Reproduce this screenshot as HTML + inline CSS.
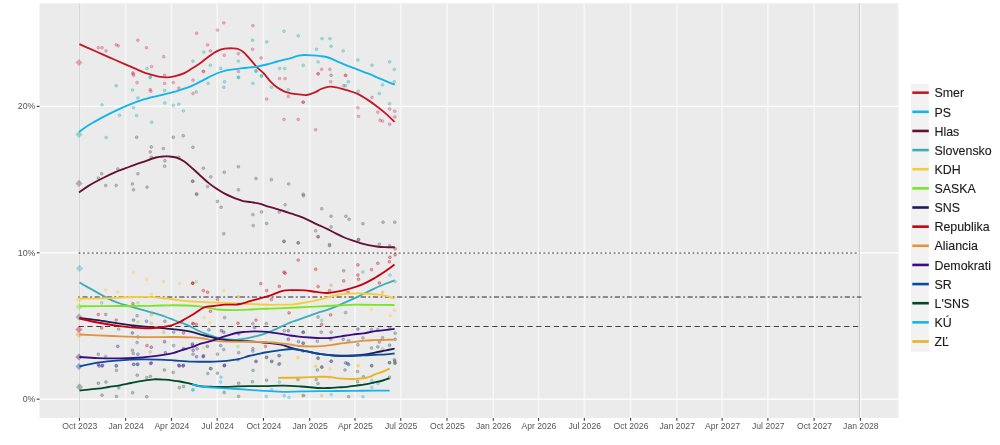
<!DOCTYPE html>
<html><head><meta charset="utf-8"><title>Polls</title>
<style>html,body{margin:0;padding:0;background:#fff;}body{width:1000px;height:445px;overflow:hidden;}svg{display:block;}</style>
</head><body>
<svg width="1000" height="445" viewBox="0 0 1000 445">
<rect x="39.5" y="3.3" width="858.90" height="414.70" fill="#ebebeb"/>
<g stroke="#ffffff" stroke-width="1.2"><line x1="79.40" y1="3.3" x2="79.40" y2="418.0" stroke="#f6f6f6" stroke-width="1.7"/><line x1="125.67" y1="3.3" x2="125.67" y2="418.0" stroke="#f6f6f6" stroke-width="1.7"/><line x1="171.43" y1="3.3" x2="171.43" y2="418.0" stroke="#f6f6f6" stroke-width="1.7"/><line x1="217.19" y1="3.3" x2="217.19" y2="418.0" stroke="#f6f6f6" stroke-width="1.7"/><line x1="263.46" y1="3.3" x2="263.46" y2="418.0" stroke="#f6f6f6" stroke-width="1.7"/><line x1="309.73" y1="3.3" x2="309.73" y2="418.0" stroke="#f6f6f6" stroke-width="1.7"/><line x1="354.99" y1="3.3" x2="354.99" y2="418.0" stroke="#f6f6f6" stroke-width="1.7"/><line x1="400.75" y1="3.3" x2="400.75" y2="418.0" stroke="#f6f6f6" stroke-width="1.7"/><line x1="447.02" y1="3.3" x2="447.02" y2="418.0" stroke="#f6f6f6" stroke-width="1.7"/><line x1="493.29" y1="3.3" x2="493.29" y2="418.0" stroke="#f6f6f6" stroke-width="1.7"/><line x1="538.55" y1="3.3" x2="538.55" y2="418.0" stroke="#f6f6f6" stroke-width="1.7"/><line x1="584.31" y1="3.3" x2="584.31" y2="418.0" stroke="#f6f6f6" stroke-width="1.7"/><line x1="630.58" y1="3.3" x2="630.58" y2="418.0" stroke="#f6f6f6" stroke-width="1.7"/><line x1="676.85" y1="3.3" x2="676.85" y2="418.0" stroke="#f6f6f6" stroke-width="1.7"/><line x1="722.11" y1="3.3" x2="722.11" y2="418.0" stroke="#f6f6f6" stroke-width="1.7"/><line x1="767.87" y1="3.3" x2="767.87" y2="418.0" stroke="#f6f6f6" stroke-width="1.7"/><line x1="814.14" y1="3.3" x2="814.14" y2="418.0" stroke="#f6f6f6" stroke-width="1.7"/><line x1="860.40" y1="3.3" x2="860.40" y2="418.0" stroke="#f6f6f6" stroke-width="1.7"/><line x1="39.5" y1="399.20" x2="898.4" y2="399.20"/><line x1="39.5" y1="252.80" x2="898.4" y2="252.80"/><line x1="39.5" y1="106.40" x2="898.4" y2="106.40"/></g>
<line x1="79.4" y1="3.3" x2="79.4" y2="418.0" stroke="#d4d4d4" stroke-width="1"/>
<line x1="859.4" y1="3.3" x2="859.4" y2="418.0" stroke="#c8c8c8" stroke-width="1"/>
<line x1="79" y1="253" x2="858.5" y2="253" stroke="#333333" stroke-width="1.1" stroke-dasharray="1.096 3.289" stroke-linecap="round"/>
<line x1="78.45" y1="297" x2="861" y2="297" stroke="#2a2a2a" stroke-width="1.1" stroke-dasharray="1.1 3.3 4.4 3.3" stroke-linecap="round"/>
<line x1="79" y1="326.5" x2="858.5" y2="326.5" stroke="#404040" stroke-width="1.1" stroke-dasharray="4.4 4.4" stroke-linecap="round"/>
<g fill-opacity="0.32" stroke-opacity="0.38" stroke-width="0.7"><circle cx="98.3" cy="47.7" r="1.45" fill="#c83a5c" stroke="#c83a5c"/><circle cx="102.0" cy="47.7" r="1.45" fill="#c83a5c" stroke="#c83a5c"/><circle cx="106.0" cy="50.9" r="1.45" fill="#c83a5c" stroke="#c83a5c"/><circle cx="116.2" cy="44.9" r="1.45" fill="#c83a5c" stroke="#c83a5c"/><circle cx="118.2" cy="45.8" r="1.45" fill="#c83a5c" stroke="#c83a5c"/><circle cx="137.9" cy="40.3" r="1.45" fill="#c83a5c" stroke="#c83a5c"/><circle cx="146.5" cy="47.7" r="1.45" fill="#c83a5c" stroke="#c83a5c"/><circle cx="163.8" cy="56.7" r="1.45" fill="#c83a5c" stroke="#c83a5c"/><circle cx="151.6" cy="66.6" r="1.45" fill="#c83a5c" stroke="#c83a5c"/><circle cx="132.9" cy="72.9" r="1.45" fill="#c83a5c" stroke="#c83a5c"/><circle cx="133.5" cy="75.3" r="1.45" fill="#c83a5c" stroke="#c83a5c"/><circle cx="164.6" cy="75.3" r="1.45" fill="#c83a5c" stroke="#c83a5c"/><circle cx="147.0" cy="68.5" r="1.45" fill="#18b0a8" stroke="#18b0a8"/><circle cx="150.2" cy="77.6" r="1.45" fill="#18b0a8" stroke="#18b0a8"/><circle cx="193.0" cy="61.1" r="1.45" fill="#18b0a8" stroke="#18b0a8"/><circle cx="196.6" cy="33.3" r="1.45" fill="#c83a5c" stroke="#c83a5c"/><circle cx="217.5" cy="30.1" r="1.45" fill="#c83a5c" stroke="#c83a5c"/><circle cx="223.8" cy="22.9" r="1.45" fill="#c83a5c" stroke="#c83a5c"/><circle cx="252.9" cy="25.7" r="1.45" fill="#c83a5c" stroke="#c83a5c"/><circle cx="207.6" cy="44.9" r="1.45" fill="#c83a5c" stroke="#c83a5c"/><circle cx="210.4" cy="50.9" r="1.45" fill="#c83a5c" stroke="#c83a5c"/><circle cx="224.3" cy="55.3" r="1.45" fill="#c83a5c" stroke="#c83a5c"/><circle cx="238.4" cy="53.7" r="1.45" fill="#c83a5c" stroke="#c83a5c"/><circle cx="252.6" cy="49.3" r="1.45" fill="#c83a5c" stroke="#c83a5c"/><circle cx="261.1" cy="58.0" r="1.45" fill="#c83a5c" stroke="#c83a5c"/><circle cx="203.4" cy="71.3" r="1.45" fill="#c83a5c" stroke="#c83a5c"/><circle cx="238.4" cy="71.6" r="1.45" fill="#c83a5c" stroke="#c83a5c"/><circle cx="203.8" cy="52.1" r="1.45" fill="#18b0a8" stroke="#18b0a8"/><circle cx="210.4" cy="65.3" r="1.45" fill="#18b0a8" stroke="#18b0a8"/><circle cx="220.7" cy="68.5" r="1.45" fill="#18b0a8" stroke="#18b0a8"/><circle cx="238.4" cy="61.1" r="1.45" fill="#18b0a8" stroke="#18b0a8"/><circle cx="252.6" cy="40.2" r="1.45" fill="#18b0a8" stroke="#18b0a8"/><circle cx="266.7" cy="41.9" r="1.45" fill="#18b0a8" stroke="#18b0a8"/><circle cx="284.0" cy="31.2" r="1.45" fill="#18b0a8" stroke="#18b0a8"/><circle cx="298.2" cy="35.9" r="1.45" fill="#18b0a8" stroke="#18b0a8"/><circle cx="303.2" cy="65.3" r="1.45" fill="#18b0a8" stroke="#18b0a8"/><circle cx="279.6" cy="68.5" r="1.45" fill="#18b0a8" stroke="#18b0a8"/><circle cx="284.8" cy="68.5" r="1.45" fill="#18b0a8" stroke="#18b0a8"/><circle cx="256.0" cy="71.3" r="1.45" fill="#18b0a8" stroke="#18b0a8"/><circle cx="261.5" cy="75.7" r="1.45" fill="#18b0a8" stroke="#18b0a8"/><circle cx="238.4" cy="77.6" r="1.45" fill="#18b0a8" stroke="#18b0a8"/><circle cx="322.0" cy="38.6" r="1.45" fill="#18b0a8" stroke="#18b0a8"/><circle cx="329.9" cy="38.6" r="1.45" fill="#18b0a8" stroke="#18b0a8"/><circle cx="331.1" cy="46.2" r="1.45" fill="#18b0a8" stroke="#18b0a8"/><circle cx="316.5" cy="49.3" r="1.45" fill="#18b0a8" stroke="#18b0a8"/><circle cx="343.2" cy="50.9" r="1.45" fill="#18b0a8" stroke="#18b0a8"/><circle cx="318.1" cy="61.9" r="1.45" fill="#18b0a8" stroke="#18b0a8"/><circle cx="357.9" cy="60.0" r="1.45" fill="#18b0a8" stroke="#18b0a8"/><circle cx="372.0" cy="65.3" r="1.45" fill="#18b0a8" stroke="#18b0a8"/><circle cx="389.6" cy="61.9" r="1.45" fill="#18b0a8" stroke="#18b0a8"/><circle cx="394.3" cy="69.4" r="1.45" fill="#18b0a8" stroke="#18b0a8"/><circle cx="321.7" cy="69.4" r="1.45" fill="#c83a5c" stroke="#c83a5c"/><circle cx="329.9" cy="69.4" r="1.45" fill="#c83a5c" stroke="#c83a5c"/><circle cx="318.1" cy="73.7" r="1.45" fill="#c83a5c" stroke="#c83a5c"/><circle cx="331.1" cy="75.3" r="1.45" fill="#605058" stroke="#605058"/><circle cx="345.6" cy="75.3" r="1.45" fill="#c83a5c" stroke="#c83a5c"/><circle cx="116.2" cy="85.7" r="1.45" fill="#18b0a8" stroke="#18b0a8"/><circle cx="102.0" cy="104.9" r="1.45" fill="#18b0a8" stroke="#18b0a8"/><circle cx="119.5" cy="115.3" r="1.45" fill="#18b0a8" stroke="#18b0a8"/><circle cx="132.4" cy="90.1" r="1.45" fill="#18b0a8" stroke="#18b0a8"/><circle cx="137.9" cy="98.0" r="1.45" fill="#18b0a8" stroke="#18b0a8"/><circle cx="133.5" cy="107.7" r="1.45" fill="#18b0a8" stroke="#18b0a8"/><circle cx="136.6" cy="115.6" r="1.45" fill="#18b0a8" stroke="#18b0a8"/><circle cx="151.7" cy="122.2" r="1.45" fill="#18b0a8" stroke="#18b0a8"/><circle cx="150.2" cy="77.1" r="1.45" fill="#18b0a8" stroke="#18b0a8"/><circle cx="164.6" cy="90.4" r="1.45" fill="#18b0a8" stroke="#18b0a8"/><circle cx="164.9" cy="103.0" r="1.45" fill="#18b0a8" stroke="#18b0a8"/><circle cx="173.3" cy="105.4" r="1.45" fill="#18b0a8" stroke="#18b0a8"/><circle cx="178.8" cy="104.3" r="1.45" fill="#18b0a8" stroke="#18b0a8"/><circle cx="183.5" cy="110.9" r="1.45" fill="#18b0a8" stroke="#18b0a8"/><circle cx="106.1" cy="137.6" r="1.45" fill="#18b0a8" stroke="#18b0a8"/><circle cx="133.2" cy="73.9" r="1.45" fill="#c83a5c" stroke="#c83a5c"/><circle cx="137.1" cy="82.6" r="1.45" fill="#c83a5c" stroke="#c83a5c"/><circle cx="150.2" cy="89.7" r="1.45" fill="#c83a5c" stroke="#c83a5c"/><circle cx="150.8" cy="91.2" r="1.45" fill="#c83a5c" stroke="#c83a5c"/><circle cx="164.6" cy="83.4" r="1.45" fill="#c83a5c" stroke="#c83a5c"/><circle cx="173.3" cy="82.6" r="1.45" fill="#c83a5c" stroke="#c83a5c"/><circle cx="178.8" cy="88.1" r="1.45" fill="#c83a5c" stroke="#c83a5c"/><circle cx="193.0" cy="80.2" r="1.45" fill="#c83a5c" stroke="#c83a5c"/><circle cx="193.0" cy="93.6" r="1.45" fill="#c83a5c" stroke="#c83a5c"/><circle cx="208.1" cy="83.4" r="1.45" fill="#18b0a8" stroke="#18b0a8"/><circle cx="224.6" cy="81.8" r="1.45" fill="#18b0a8" stroke="#18b0a8"/><circle cx="223.8" cy="87.3" r="1.45" fill="#18b0a8" stroke="#18b0a8"/><circle cx="196.3" cy="92.0" r="1.45" fill="#18b0a8" stroke="#18b0a8"/><circle cx="238.4" cy="77.1" r="1.45" fill="#18b0a8" stroke="#18b0a8"/><circle cx="252.9" cy="83.4" r="1.45" fill="#18b0a8" stroke="#18b0a8"/><circle cx="261.5" cy="76.3" r="1.45" fill="#18b0a8" stroke="#18b0a8"/><circle cx="256.0" cy="70.8" r="1.45" fill="#18b0a8" stroke="#18b0a8"/><circle cx="271.4" cy="87.3" r="1.45" fill="#18b0a8" stroke="#18b0a8"/><circle cx="288.3" cy="89.7" r="1.45" fill="#18b0a8" stroke="#18b0a8"/><circle cx="203.4" cy="71.6" r="1.45" fill="#c83a5c" stroke="#c83a5c"/><circle cx="279.6" cy="78.6" r="1.45" fill="#c83a5c" stroke="#c83a5c"/><circle cx="285.1" cy="78.6" r="1.45" fill="#c83a5c" stroke="#c83a5c"/><circle cx="266.7" cy="99.1" r="1.45" fill="#c83a5c" stroke="#c83a5c"/><circle cx="288.3" cy="96.4" r="1.45" fill="#c83a5c" stroke="#c83a5c"/><circle cx="303.2" cy="102.2" r="1.45" fill="#c83a5c" stroke="#c83a5c"/><circle cx="284.0" cy="119.5" r="1.45" fill="#c83a5c" stroke="#c83a5c"/><circle cx="298.2" cy="119.5" r="1.45" fill="#c83a5c" stroke="#c83a5c"/><circle cx="318.1" cy="73.9" r="1.45" fill="#c83a5c" stroke="#c83a5c"/><circle cx="330.7" cy="81.8" r="1.45" fill="#c83a5c" stroke="#c83a5c"/><circle cx="345.6" cy="75.5" r="1.45" fill="#c83a5c" stroke="#c83a5c"/><circle cx="343.7" cy="85.7" r="1.45" fill="#c83a5c" stroke="#c83a5c"/><circle cx="303.1" cy="102.2" r="1.45" fill="#c83a5c" stroke="#c83a5c"/><circle cx="315.7" cy="129.7" r="1.45" fill="#c83a5c" stroke="#c83a5c"/><circle cx="357.9" cy="107.7" r="1.45" fill="#c83a5c" stroke="#c83a5c"/><circle cx="358.5" cy="116.4" r="1.45" fill="#c83a5c" stroke="#c83a5c"/><circle cx="372.0" cy="97.5" r="1.45" fill="#c83a5c" stroke="#c83a5c"/><circle cx="377.8" cy="112.1" r="1.45" fill="#c83a5c" stroke="#c83a5c"/><circle cx="380.2" cy="120.3" r="1.45" fill="#c83a5c" stroke="#c83a5c"/><circle cx="382.5" cy="121.1" r="1.45" fill="#c83a5c" stroke="#c83a5c"/><circle cx="389.6" cy="109.0" r="1.45" fill="#c83a5c" stroke="#c83a5c"/><circle cx="394.8" cy="111.2" r="1.45" fill="#c83a5c" stroke="#c83a5c"/><circle cx="394.8" cy="116.9" r="1.45" fill="#c83a5c" stroke="#c83a5c"/><circle cx="389.6" cy="124.2" r="1.45" fill="#c83a5c" stroke="#c83a5c"/><circle cx="348.4" cy="81.8" r="1.45" fill="#18b0a8" stroke="#18b0a8"/><circle cx="345.6" cy="85.7" r="1.45" fill="#18b0a8" stroke="#18b0a8"/><circle cx="358.2" cy="91.2" r="1.45" fill="#18b0a8" stroke="#18b0a8"/><circle cx="382.5" cy="84.9" r="1.45" fill="#18b0a8" stroke="#18b0a8"/><circle cx="379.4" cy="93.6" r="1.45" fill="#18b0a8" stroke="#18b0a8"/><circle cx="394.3" cy="81.8" r="1.45" fill="#18b0a8" stroke="#18b0a8"/><circle cx="389.6" cy="103.8" r="1.45" fill="#18b0a8" stroke="#18b0a8"/><circle cx="136.6" cy="137.3" r="1.45" fill="#605058" stroke="#605058"/><circle cx="173.3" cy="137.3" r="1.45" fill="#605058" stroke="#605058"/><circle cx="183.2" cy="135.7" r="1.45" fill="#605058" stroke="#605058"/><circle cx="151.3" cy="147.0" r="1.45" fill="#605058" stroke="#605058"/><circle cx="150.2" cy="152.0" r="1.45" fill="#605058" stroke="#605058"/><circle cx="163.4" cy="148.6" r="1.45" fill="#605058" stroke="#605058"/><circle cx="151.3" cy="157.2" r="1.45" fill="#605058" stroke="#605058"/><circle cx="164.9" cy="160.8" r="1.45" fill="#605058" stroke="#605058"/><circle cx="164.6" cy="166.2" r="1.45" fill="#605058" stroke="#605058"/><circle cx="178.8" cy="157.2" r="1.45" fill="#605058" stroke="#605058"/><circle cx="117.8" cy="169.0" r="1.45" fill="#605058" stroke="#605058"/><circle cx="101.7" cy="173.7" r="1.45" fill="#605058" stroke="#605058"/><circle cx="98.3" cy="178.1" r="1.45" fill="#605058" stroke="#605058"/><circle cx="137.9" cy="173.7" r="1.45" fill="#605058" stroke="#605058"/><circle cx="105.7" cy="185.5" r="1.45" fill="#605058" stroke="#605058"/><circle cx="116.2" cy="185.5" r="1.45" fill="#605058" stroke="#605058"/><circle cx="132.4" cy="184.0" r="1.45" fill="#605058" stroke="#605058"/><circle cx="133.5" cy="189.8" r="1.45" fill="#605058" stroke="#605058"/><circle cx="147.0" cy="187.1" r="1.45" fill="#605058" stroke="#605058"/><circle cx="192.6" cy="181.3" r="1.45" fill="#605058" stroke="#605058"/><circle cx="192.9" cy="147.3" r="1.45" fill="#605058" stroke="#605058"/><circle cx="203.4" cy="168.2" r="1.45" fill="#605058" stroke="#605058"/><circle cx="210.8" cy="176.9" r="1.45" fill="#605058" stroke="#605058"/><circle cx="192.8" cy="181.3" r="1.45" fill="#605058" stroke="#605058"/><circle cx="207.6" cy="186.6" r="1.45" fill="#605058" stroke="#605058"/><circle cx="196.6" cy="193.9" r="1.45" fill="#605058" stroke="#605058"/><circle cx="224.3" cy="172.2" r="1.45" fill="#605058" stroke="#605058"/><circle cx="238.4" cy="166.7" r="1.45" fill="#605058" stroke="#605058"/><circle cx="256.0" cy="178.5" r="1.45" fill="#605058" stroke="#605058"/><circle cx="271.4" cy="179.7" r="1.45" fill="#605058" stroke="#605058"/><circle cx="288.7" cy="184.0" r="1.45" fill="#605058" stroke="#605058"/><circle cx="238.4" cy="189.8" r="1.45" fill="#605058" stroke="#605058"/><circle cx="303.2" cy="194.2" r="1.45" fill="#605058" stroke="#605058"/><circle cx="196.6" cy="194.4" r="1.45" fill="#605058" stroke="#605058"/><circle cx="217.5" cy="201.5" r="1.45" fill="#605058" stroke="#605058"/><circle cx="221.1" cy="207.3" r="1.45" fill="#605058" stroke="#605058"/><circle cx="223.8" cy="233.7" r="1.45" fill="#605058" stroke="#605058"/><circle cx="252.9" cy="214.6" r="1.45" fill="#605058" stroke="#605058"/><circle cx="261.5" cy="212.0" r="1.45" fill="#605058" stroke="#605058"/><circle cx="253.2" cy="225.6" r="1.45" fill="#605058" stroke="#605058"/><circle cx="266.7" cy="223.5" r="1.45" fill="#605058" stroke="#605058"/><circle cx="279.3" cy="212.0" r="1.45" fill="#605058" stroke="#605058"/><circle cx="285.1" cy="204.7" r="1.45" fill="#605058" stroke="#605058"/><circle cx="303.5" cy="195.8" r="1.45" fill="#605058" stroke="#605058"/><circle cx="284.0" cy="241.3" r="1.45" fill="#605058" stroke="#605058"/><circle cx="298.2" cy="242.9" r="1.45" fill="#605058" stroke="#605058"/><circle cx="321.7" cy="208.8" r="1.45" fill="#605058" stroke="#605058"/><circle cx="331.1" cy="216.2" r="1.45" fill="#605058" stroke="#605058"/><circle cx="345.9" cy="216.2" r="1.45" fill="#605058" stroke="#605058"/><circle cx="349.1" cy="219.3" r="1.45" fill="#605058" stroke="#605058"/><circle cx="362.9" cy="223.7" r="1.45" fill="#605058" stroke="#605058"/><circle cx="331.1" cy="226.9" r="1.45" fill="#605058" stroke="#605058"/><circle cx="315.7" cy="230.8" r="1.45" fill="#605058" stroke="#605058"/><circle cx="318.1" cy="236.6" r="1.45" fill="#605058" stroke="#605058"/><circle cx="358.5" cy="239.5" r="1.45" fill="#605058" stroke="#605058"/><circle cx="383.0" cy="222.2" r="1.45" fill="#605058" stroke="#605058"/><circle cx="394.8" cy="222.2" r="1.45" fill="#605058" stroke="#605058"/><circle cx="379.4" cy="244.2" r="1.45" fill="#605058" stroke="#605058"/><circle cx="329.6" cy="244.5" r="1.45" fill="#605058" stroke="#605058"/><circle cx="318.1" cy="236.9" r="1.45" fill="#605058" stroke="#605058"/><circle cx="329.6" cy="245.7" r="1.45" fill="#605058" stroke="#605058"/><circle cx="358.5" cy="239.7" r="1.45" fill="#605058" stroke="#605058"/><circle cx="389.6" cy="245.7" r="1.45" fill="#605058" stroke="#605058"/><circle cx="343.7" cy="270.8" r="1.45" fill="#605058" stroke="#605058"/><circle cx="395.1" cy="248.8" r="1.45" fill="#c8000e" stroke="#c8000e"/><circle cx="395.1" cy="254.7" r="1.45" fill="#c8000e" stroke="#c8000e"/><circle cx="389.9" cy="257.3" r="1.45" fill="#c8000e" stroke="#c8000e"/><circle cx="389.3" cy="261.7" r="1.45" fill="#c8000e" stroke="#c8000e"/><circle cx="377.8" cy="263.3" r="1.45" fill="#c8000e" stroke="#c8000e"/><circle cx="357.9" cy="264.9" r="1.45" fill="#c8000e" stroke="#c8000e"/><circle cx="371.5" cy="269.6" r="1.45" fill="#c8000e" stroke="#c8000e"/><circle cx="315.7" cy="269.3" r="1.45" fill="#c8000e" stroke="#c8000e"/><circle cx="357.9" cy="275.1" r="1.45" fill="#c8000e" stroke="#c8000e"/><circle cx="358.5" cy="279.3" r="1.45" fill="#c8000e" stroke="#c8000e"/><circle cx="343.7" cy="280.9" r="1.45" fill="#c8000e" stroke="#c8000e"/><circle cx="318.1" cy="286.6" r="1.45" fill="#c8000e" stroke="#c8000e"/><circle cx="331.1" cy="285.3" r="1.45" fill="#e0943e" stroke="#e0943e"/><circle cx="329.6" cy="290.8" r="1.45" fill="#c8000e" stroke="#c8000e"/><circle cx="348.0" cy="292.4" r="1.45" fill="#c8000e" stroke="#c8000e"/><circle cx="379.4" cy="283.0" r="1.45" fill="#c8000e" stroke="#c8000e"/><circle cx="382.5" cy="292.4" r="1.45" fill="#e0943e" stroke="#e0943e"/><circle cx="362.9" cy="272.0" r="1.45" fill="#3aafb9" stroke="#3aafb9"/><circle cx="389.9" cy="275.1" r="1.45" fill="#3aafb9" stroke="#3aafb9"/><circle cx="395.1" cy="281.4" r="1.45" fill="#3aafb9" stroke="#3aafb9"/><circle cx="105.7" cy="290.0" r="1.45" fill="#f5cd3a" stroke="#f5cd3a"/><circle cx="117.5" cy="291.9" r="1.45" fill="#f5cd3a" stroke="#f5cd3a"/><circle cx="133.5" cy="272.7" r="1.45" fill="#f5cd3a" stroke="#f5cd3a"/><circle cx="146.5" cy="279.3" r="1.45" fill="#f5cd3a" stroke="#f5cd3a"/><circle cx="163.8" cy="281.7" r="1.45" fill="#f5cd3a" stroke="#f5cd3a"/><circle cx="179.6" cy="283.7" r="1.45" fill="#f5cd3a" stroke="#f5cd3a"/><circle cx="151.3" cy="294.2" r="1.45" fill="#f5cd3a" stroke="#f5cd3a"/><circle cx="192.6" cy="283.2" r="1.45" fill="#c8000e" stroke="#c8000e"/><circle cx="132.9" cy="303.7" r="1.45" fill="#c8000e" stroke="#c8000e"/><circle cx="137.9" cy="302.9" r="1.45" fill="#7ae626" stroke="#7ae626"/><circle cx="101.7" cy="302.9" r="1.45" fill="#3aafb9" stroke="#3aafb9"/><circle cx="98.3" cy="314.5" r="1.45" fill="#c8000e" stroke="#c8000e"/><circle cx="105.7" cy="314.5" r="1.45" fill="#50506a" stroke="#50506a"/><circle cx="116.2" cy="320.1" r="1.45" fill="#c8000e" stroke="#c8000e"/><circle cx="118.7" cy="329.1" r="1.45" fill="#50506a" stroke="#50506a"/><circle cx="101.7" cy="328.0" r="1.45" fill="#c8000e" stroke="#c8000e"/><circle cx="133.5" cy="320.1" r="1.45" fill="#3a0e80" stroke="#3a0e80"/><circle cx="137.1" cy="315.7" r="1.45" fill="#50506a" stroke="#50506a"/><circle cx="137.9" cy="322.0" r="1.45" fill="#7ae626" stroke="#7ae626"/><circle cx="132.4" cy="333.0" r="1.45" fill="#3a0e80" stroke="#3a0e80"/><circle cx="146.5" cy="321.2" r="1.45" fill="#0b4a9a" stroke="#0b4a9a"/><circle cx="151.3" cy="314.9" r="1.45" fill="#e0943e" stroke="#e0943e"/><circle cx="151.3" cy="323.3" r="1.45" fill="#e0943e" stroke="#e0943e"/><circle cx="164.9" cy="321.2" r="1.45" fill="#50506a" stroke="#50506a"/><circle cx="163.8" cy="332.2" r="1.45" fill="#e0943e" stroke="#e0943e"/><circle cx="173.7" cy="332.2" r="1.45" fill="#50506a" stroke="#50506a"/><circle cx="183.5" cy="333.0" r="1.45" fill="#c8000e" stroke="#c8000e"/><circle cx="192.9" cy="323.6" r="1.45" fill="#50506a" stroke="#50506a"/><circle cx="117.8" cy="346.4" r="1.45" fill="#3a0e80" stroke="#3a0e80"/><circle cx="98.3" cy="354.2" r="1.45" fill="#50506a" stroke="#50506a"/><circle cx="105.7" cy="356.6" r="1.45" fill="#50506a" stroke="#50506a"/><circle cx="132.4" cy="350.3" r="1.45" fill="#50506a" stroke="#50506a"/><circle cx="133.2" cy="353.5" r="1.45" fill="#50506a" stroke="#50506a"/><circle cx="137.9" cy="354.2" r="1.45" fill="#0b4a9a" stroke="#0b4a9a"/><circle cx="147.0" cy="345.6" r="1.45" fill="#c8000e" stroke="#c8000e"/><circle cx="151.3" cy="347.2" r="1.45" fill="#3a0e80" stroke="#3a0e80"/><circle cx="150.2" cy="351.9" r="1.45" fill="#e0943e" stroke="#e0943e"/><circle cx="164.6" cy="341.7" r="1.45" fill="#3a0e80" stroke="#3a0e80"/><circle cx="165.4" cy="352.7" r="1.45" fill="#3a0e80" stroke="#3a0e80"/><circle cx="173.7" cy="345.6" r="1.45" fill="#50506a" stroke="#50506a"/><circle cx="183.5" cy="348.7" r="1.45" fill="#3a0e80" stroke="#3a0e80"/><circle cx="192.6" cy="345.6" r="1.45" fill="#3a0e80" stroke="#3a0e80"/><circle cx="98.3" cy="364.5" r="1.45" fill="#3a0e80" stroke="#3a0e80"/><circle cx="102.5" cy="365.3" r="1.45" fill="#0b4a9a" stroke="#0b4a9a"/><circle cx="116.2" cy="365.7" r="1.45" fill="#0b4a9a" stroke="#0b4a9a"/><circle cx="133.5" cy="364.2" r="1.45" fill="#50506a" stroke="#50506a"/><circle cx="137.9" cy="364.2" r="1.45" fill="#0b4a9a" stroke="#0b4a9a"/><circle cx="151.3" cy="362.9" r="1.45" fill="#3a0e80" stroke="#3a0e80"/><circle cx="178.8" cy="365.3" r="1.45" fill="#3a0e80" stroke="#3a0e80"/><circle cx="183.5" cy="365.3" r="1.45" fill="#3a0e80" stroke="#3a0e80"/><circle cx="137.1" cy="342.5" r="1.45" fill="#50506a" stroke="#50506a"/><circle cx="137.9" cy="337.0" r="1.45" fill="#50506a" stroke="#50506a"/><circle cx="192.8" cy="283.2" r="1.45" fill="#c8000e" stroke="#c8000e"/><circle cx="203.4" cy="290.6" r="1.45" fill="#c8000e" stroke="#c8000e"/><circle cx="207.6" cy="292.2" r="1.45" fill="#c8000e" stroke="#c8000e"/><circle cx="217.5" cy="299.4" r="1.45" fill="#c8000e" stroke="#c8000e"/><circle cx="260.8" cy="283.7" r="1.45" fill="#c8000e" stroke="#c8000e"/><circle cx="266.7" cy="290.6" r="1.45" fill="#c8000e" stroke="#c8000e"/><circle cx="279.3" cy="286.4" r="1.45" fill="#c8000e" stroke="#c8000e"/><circle cx="284.0" cy="272.2" r="1.45" fill="#c8000e" stroke="#c8000e"/><circle cx="285.1" cy="273.3" r="1.45" fill="#c8000e" stroke="#c8000e"/><circle cx="298.2" cy="260.1" r="1.45" fill="#c8000e" stroke="#c8000e"/><circle cx="271.4" cy="299.4" r="1.45" fill="#c8000e" stroke="#c8000e"/><circle cx="196.3" cy="281.7" r="1.45" fill="#7ae626" stroke="#7ae626"/><circle cx="223.8" cy="290.6" r="1.45" fill="#f5cd3a" stroke="#f5cd3a"/><circle cx="238.4" cy="296.9" r="1.45" fill="#e0943e" stroke="#e0943e"/><circle cx="284.0" cy="241.6" r="1.45" fill="#605058" stroke="#605058"/><circle cx="298.2" cy="242.8" r="1.45" fill="#605058" stroke="#605058"/><circle cx="210.4" cy="311.3" r="1.45" fill="#c8000e" stroke="#c8000e"/><circle cx="204.2" cy="317.6" r="1.45" fill="#f5cd3a" stroke="#f5cd3a"/><circle cx="224.6" cy="317.6" r="1.45" fill="#50506a" stroke="#50506a"/><circle cx="193.1" cy="323.6" r="1.45" fill="#c8000e" stroke="#c8000e"/><circle cx="196.3" cy="324.4" r="1.45" fill="#c8000e" stroke="#c8000e"/><circle cx="209.7" cy="322.8" r="1.45" fill="#f5cd3a" stroke="#f5cd3a"/><circle cx="238.0" cy="323.3" r="1.45" fill="#c8000e" stroke="#c8000e"/><circle cx="252.9" cy="323.6" r="1.45" fill="#50506a" stroke="#50506a"/><circle cx="256.0" cy="320.1" r="1.45" fill="#c8000e" stroke="#c8000e"/><circle cx="266.3" cy="323.6" r="1.45" fill="#50506a" stroke="#50506a"/><circle cx="254.5" cy="327.5" r="1.45" fill="#3a0e80" stroke="#3a0e80"/><circle cx="289.1" cy="312.9" r="1.45" fill="#c8000e" stroke="#c8000e"/><circle cx="288.3" cy="330.7" r="1.45" fill="#3a0e80" stroke="#3a0e80"/><circle cx="284.3" cy="330.7" r="1.45" fill="#50506a" stroke="#50506a"/><circle cx="303.2" cy="332.2" r="1.45" fill="#3a0e80" stroke="#3a0e80"/><circle cx="221.4" cy="330.7" r="1.45" fill="#3a0e80" stroke="#3a0e80"/><circle cx="223.8" cy="332.2" r="1.45" fill="#3a0e80" stroke="#3a0e80"/><circle cx="238.7" cy="333.8" r="1.45" fill="#3a0e80" stroke="#3a0e80"/><circle cx="208.9" cy="329.9" r="1.45" fill="#0b4a9a" stroke="#0b4a9a"/><circle cx="192.4" cy="344.0" r="1.45" fill="#3a0e80" stroke="#3a0e80"/><circle cx="193.1" cy="350.3" r="1.45" fill="#3a0e80" stroke="#3a0e80"/><circle cx="197.1" cy="348.7" r="1.45" fill="#50506a" stroke="#50506a"/><circle cx="203.4" cy="348.0" r="1.45" fill="#f5cd3a" stroke="#f5cd3a"/><circle cx="207.3" cy="346.4" r="1.45" fill="#3a0e80" stroke="#3a0e80"/><circle cx="220.7" cy="345.6" r="1.45" fill="#0b4a9a" stroke="#0b4a9a"/><circle cx="223.8" cy="349.5" r="1.45" fill="#50506a" stroke="#50506a"/><circle cx="238.0" cy="346.4" r="1.45" fill="#7ae626" stroke="#7ae626"/><circle cx="238.7" cy="352.7" r="1.45" fill="#50506a" stroke="#50506a"/><circle cx="252.9" cy="348.7" r="1.45" fill="#50506a" stroke="#50506a"/><circle cx="252.9" cy="351.1" r="1.45" fill="#50506a" stroke="#50506a"/><circle cx="193.1" cy="354.2" r="1.45" fill="#50506a" stroke="#50506a"/><circle cx="203.4" cy="355.8" r="1.45" fill="#3a0e80" stroke="#3a0e80"/><circle cx="217.5" cy="354.2" r="1.45" fill="#50506a" stroke="#50506a"/><circle cx="265.5" cy="346.4" r="1.45" fill="#c8000e" stroke="#c8000e"/><circle cx="266.3" cy="357.4" r="1.45" fill="#50506a" stroke="#50506a"/><circle cx="279.6" cy="355.8" r="1.45" fill="#50506a" stroke="#50506a"/><circle cx="288.3" cy="339.3" r="1.45" fill="#3a0e80" stroke="#3a0e80"/><circle cx="298.5" cy="341.7" r="1.45" fill="#0b4a9a" stroke="#0b4a9a"/><circle cx="303.2" cy="343.2" r="1.45" fill="#50506a" stroke="#50506a"/><circle cx="297.7" cy="357.4" r="1.45" fill="#f5cd3a" stroke="#f5cd3a"/><circle cx="224.6" cy="365.3" r="1.45" fill="#3a0e80" stroke="#3a0e80"/><circle cx="210.4" cy="368.4" r="1.45" fill="#50506a" stroke="#50506a"/><circle cx="256.0" cy="361.3" r="1.45" fill="#50506a" stroke="#50506a"/><circle cx="271.8" cy="361.3" r="1.45" fill="#50506a" stroke="#50506a"/><circle cx="279.6" cy="363.7" r="1.45" fill="#50506a" stroke="#50506a"/><circle cx="330.7" cy="314.9" r="1.45" fill="#c8000e" stroke="#c8000e"/><circle cx="318.1" cy="317.0" r="1.45" fill="#50506a" stroke="#50506a"/><circle cx="321.7" cy="320.4" r="1.45" fill="#3aafb9" stroke="#3aafb9"/><circle cx="321.7" cy="324.4" r="1.45" fill="#c8000e" stroke="#c8000e"/><circle cx="345.6" cy="312.6" r="1.45" fill="#50506a" stroke="#50506a"/><circle cx="371.5" cy="309.4" r="1.45" fill="#f5cd3a" stroke="#f5cd3a"/><circle cx="390.4" cy="315.7" r="1.45" fill="#f5cd3a" stroke="#f5cd3a"/><circle cx="394.3" cy="310.2" r="1.45" fill="#f5cd3a" stroke="#f5cd3a"/><circle cx="303.1" cy="332.2" r="1.45" fill="#50506a" stroke="#50506a"/><circle cx="321.2" cy="332.2" r="1.45" fill="#50506a" stroke="#50506a"/><circle cx="331.1" cy="332.2" r="1.45" fill="#50506a" stroke="#50506a"/><circle cx="357.9" cy="329.1" r="1.45" fill="#3a0e80" stroke="#3a0e80"/><circle cx="371.5" cy="329.6" r="1.45" fill="#50506a" stroke="#50506a"/><circle cx="377.8" cy="329.6" r="1.45" fill="#50506a" stroke="#50506a"/><circle cx="389.6" cy="328.0" r="1.45" fill="#50506a" stroke="#50506a"/><circle cx="395.1" cy="333.3" r="1.45" fill="#50506a" stroke="#50506a"/><circle cx="303.1" cy="343.2" r="1.45" fill="#50506a" stroke="#50506a"/><circle cx="317.3" cy="341.2" r="1.45" fill="#50506a" stroke="#50506a"/><circle cx="330.7" cy="339.3" r="1.45" fill="#50506a" stroke="#50506a"/><circle cx="343.2" cy="339.3" r="1.45" fill="#0b4a9a" stroke="#0b4a9a"/><circle cx="348.7" cy="340.6" r="1.45" fill="#50506a" stroke="#50506a"/><circle cx="362.9" cy="338.0" r="1.45" fill="#50506a" stroke="#50506a"/><circle cx="382.5" cy="337.7" r="1.45" fill="#50506a" stroke="#50506a"/><circle cx="357.9" cy="344.8" r="1.45" fill="#50506a" stroke="#50506a"/><circle cx="379.4" cy="342.1" r="1.45" fill="#50506a" stroke="#50506a"/><circle cx="371.5" cy="348.0" r="1.45" fill="#50506a" stroke="#50506a"/><circle cx="377.8" cy="346.9" r="1.45" fill="#0b4a9a" stroke="#0b4a9a"/><circle cx="382.5" cy="348.7" r="1.45" fill="#e0943e" stroke="#e0943e"/><circle cx="389.6" cy="345.3" r="1.45" fill="#0b4a9a" stroke="#0b4a9a"/><circle cx="395.1" cy="339.3" r="1.45" fill="#50506a" stroke="#50506a"/><circle cx="303.1" cy="351.1" r="1.45" fill="#50506a" stroke="#50506a"/><circle cx="318.1" cy="358.5" r="1.45" fill="#50506a" stroke="#50506a"/><circle cx="331.4" cy="361.3" r="1.45" fill="#50506a" stroke="#50506a"/><circle cx="345.6" cy="362.9" r="1.45" fill="#0b4a9a" stroke="#0b4a9a"/><circle cx="348.7" cy="364.5" r="1.45" fill="#0b4a9a" stroke="#0b4a9a"/><circle cx="358.2" cy="365.7" r="1.45" fill="#f5cd3a" stroke="#f5cd3a"/><circle cx="371.5" cy="365.7" r="1.45" fill="#50506a" stroke="#50506a"/><circle cx="389.6" cy="362.6" r="1.45" fill="#50506a" stroke="#50506a"/><circle cx="394.3" cy="359.7" r="1.45" fill="#50506a" stroke="#50506a"/><circle cx="395.1" cy="362.9" r="1.45" fill="#50506a" stroke="#50506a"/><circle cx="315.7" cy="366.0" r="1.45" fill="#f5cd3a" stroke="#f5cd3a"/><circle cx="322.0" cy="367.3" r="1.45" fill="#50506a" stroke="#50506a"/><circle cx="98.4" cy="383.2" r="1.45" fill="#3a5a4a" stroke="#3a5a4a"/><circle cx="106.0" cy="382.0" r="1.45" fill="#3a5a4a" stroke="#3a5a4a"/><circle cx="118.8" cy="387.7" r="1.45" fill="#3a5a4a" stroke="#3a5a4a"/><circle cx="102.0" cy="395.2" r="1.45" fill="#3a5a4a" stroke="#3a5a4a"/><circle cx="116.4" cy="396.4" r="1.45" fill="#3a5a4a" stroke="#3a5a4a"/><circle cx="132.6" cy="392.8" r="1.45" fill="#3a5a4a" stroke="#3a5a4a"/><circle cx="146.8" cy="396.8" r="1.45" fill="#3a5a4a" stroke="#3a5a4a"/><circle cx="137.2" cy="375.2" r="1.45" fill="#3a5a4a" stroke="#3a5a4a"/><circle cx="150.4" cy="376.4" r="1.45" fill="#3a5a4a" stroke="#3a5a4a"/><circle cx="146.8" cy="377.6" r="1.45" fill="#3a5a4a" stroke="#3a5a4a"/><circle cx="164.4" cy="370.0" r="1.45" fill="#3a5a4a" stroke="#3a5a4a"/><circle cx="173.2" cy="372.4" r="1.45" fill="#3a5a4a" stroke="#3a5a4a"/><circle cx="179.4" cy="387.7" r="1.45" fill="#3a5a4a" stroke="#3a5a4a"/><circle cx="183.6" cy="386.5" r="1.45" fill="#3a5a4a" stroke="#3a5a4a"/><circle cx="193.2" cy="389.8" r="1.45" fill="#18b4e6" stroke="#18b4e6"/><circle cx="116.4" cy="366.0" r="1.45" fill="#50506a" stroke="#50506a"/><circle cx="116.4" cy="370.4" r="1.45" fill="#50506a" stroke="#50506a"/><circle cx="99.0" cy="366.0" r="1.45" fill="#3a0e80" stroke="#3a0e80"/><circle cx="102.0" cy="366.0" r="1.45" fill="#3a0e80" stroke="#3a0e80"/><circle cx="133.8" cy="364.4" r="1.45" fill="#50506a" stroke="#50506a"/><circle cx="137.2" cy="364.4" r="1.45" fill="#0b4a9a" stroke="#0b4a9a"/><circle cx="150.6" cy="363.6" r="1.45" fill="#3a0e80" stroke="#3a0e80"/><circle cx="179.4" cy="366.0" r="1.45" fill="#3a0e80" stroke="#3a0e80"/><circle cx="183.0" cy="366.0" r="1.45" fill="#3a0e80" stroke="#3a0e80"/><circle cx="211.0" cy="368.8" r="1.45" fill="#3a5a4a" stroke="#3a5a4a"/><circle cx="207.8" cy="373.6" r="1.45" fill="#3a5a4a" stroke="#3a5a4a"/><circle cx="217.4" cy="373.2" r="1.45" fill="#3a5a4a" stroke="#3a5a4a"/><circle cx="221.0" cy="377.2" r="1.45" fill="#18b4e6" stroke="#18b4e6"/><circle cx="220.6" cy="382.0" r="1.45" fill="#18b4e6" stroke="#18b4e6"/><circle cx="224.2" cy="365.8" r="1.45" fill="#3a0e80" stroke="#3a0e80"/><circle cx="203.2" cy="356.8" r="1.45" fill="#3a0e80" stroke="#3a0e80"/><circle cx="196.6" cy="356.8" r="1.45" fill="#3a0e80" stroke="#3a0e80"/><circle cx="238.0" cy="359.8" r="1.45" fill="#50506a" stroke="#50506a"/><circle cx="256.0" cy="361.6" r="1.45" fill="#50506a" stroke="#50506a"/><circle cx="253.0" cy="370.4" r="1.45" fill="#3a5a4a" stroke="#3a5a4a"/><circle cx="266.8" cy="357.2" r="1.45" fill="#50506a" stroke="#50506a"/><circle cx="271.6" cy="361.6" r="1.45" fill="#50506a" stroke="#50506a"/><circle cx="278.8" cy="364.4" r="1.45" fill="#50506a" stroke="#50506a"/><circle cx="278.8" cy="355.6" r="1.45" fill="#50506a" stroke="#50506a"/><circle cx="298.0" cy="357.4" r="1.45" fill="#f5cd3a" stroke="#f5cd3a"/><circle cx="238.6" cy="383.2" r="1.45" fill="#3a5a4a" stroke="#3a5a4a"/><circle cx="252.4" cy="381.7" r="1.45" fill="#3a5a4a" stroke="#3a5a4a"/><circle cx="266.6" cy="380.2" r="1.45" fill="#3a5a4a" stroke="#3a5a4a"/><circle cx="279.4" cy="382.0" r="1.45" fill="#18b4e6" stroke="#18b4e6"/><circle cx="298.0" cy="379.6" r="1.45" fill="#3a5a4a" stroke="#3a5a4a"/><circle cx="192.6" cy="390.0" r="1.45" fill="#18b4e6" stroke="#18b4e6"/><circle cx="224.2" cy="392.5" r="1.45" fill="#3a5a4a" stroke="#3a5a4a"/><circle cx="238.6" cy="396.4" r="1.45" fill="#3a5a4a" stroke="#3a5a4a"/><circle cx="266.2" cy="396.4" r="1.45" fill="#18b4e6" stroke="#18b4e6"/><circle cx="284.2" cy="395.8" r="1.45" fill="#18b4e6" stroke="#18b4e6"/><circle cx="289.0" cy="397.6" r="1.45" fill="#18b4e6" stroke="#18b4e6"/><circle cx="302.8" cy="395.6" r="1.45" fill="#ecb222" stroke="#ecb222"/><circle cx="271.6" cy="389.8" r="1.45" fill="#18b4e6" stroke="#18b4e6"/><circle cx="318.0" cy="358.0" r="1.45" fill="#50506a" stroke="#50506a"/><circle cx="331.0" cy="361.2" r="1.45" fill="#50506a" stroke="#50506a"/><circle cx="347.4" cy="363.4" r="1.45" fill="#0b4a9a" stroke="#0b4a9a"/><circle cx="315.6" cy="366.4" r="1.45" fill="#f5cd3a" stroke="#f5cd3a"/><circle cx="317.4" cy="370.0" r="1.45" fill="#3a5a4a" stroke="#3a5a4a"/><circle cx="321.6" cy="367.0" r="1.45" fill="#3a5a4a" stroke="#3a5a4a"/><circle cx="330.0" cy="368.8" r="1.45" fill="#f5cd3a" stroke="#f5cd3a"/><circle cx="345.0" cy="370.0" r="1.45" fill="#3a5a4a" stroke="#3a5a4a"/><circle cx="358.2" cy="365.8" r="1.45" fill="#f5cd3a" stroke="#f5cd3a"/><circle cx="357.6" cy="371.6" r="1.45" fill="#3a5a4a" stroke="#3a5a4a"/><circle cx="371.8" cy="365.8" r="1.45" fill="#3a5a4a" stroke="#3a5a4a"/><circle cx="389.4" cy="362.8" r="1.45" fill="#3a5a4a" stroke="#3a5a4a"/><circle cx="394.8" cy="361.0" r="1.45" fill="#3a5a4a" stroke="#3a5a4a"/><circle cx="394.8" cy="363.4" r="1.45" fill="#3a5a4a" stroke="#3a5a4a"/><circle cx="316.2" cy="379.6" r="1.45" fill="#3a5a4a" stroke="#3a5a4a"/><circle cx="318.0" cy="383.6" r="1.45" fill="#3a5a4a" stroke="#3a5a4a"/><circle cx="329.4" cy="377.2" r="1.45" fill="#ecb222" stroke="#ecb222"/><circle cx="363.4" cy="376.8" r="1.45" fill="#3a5a4a" stroke="#3a5a4a"/><circle cx="357.6" cy="381.7" r="1.45" fill="#3a5a4a" stroke="#3a5a4a"/><circle cx="371.8" cy="380.5" r="1.45" fill="#18b4e6" stroke="#18b4e6"/><circle cx="378.0" cy="383.6" r="1.45" fill="#18b4e6" stroke="#18b4e6"/><circle cx="389.4" cy="377.2" r="1.45" fill="#3a5a4a" stroke="#3a5a4a"/><circle cx="303.6" cy="395.6" r="1.45" fill="#3a5a4a" stroke="#3a5a4a"/><circle cx="321.6" cy="395.6" r="1.45" fill="#ecb222" stroke="#ecb222"/><circle cx="331.2" cy="394.6" r="1.45" fill="#18b4e6" stroke="#18b4e6"/><circle cx="348.6" cy="396.8" r="1.45" fill="#3a5a4a" stroke="#3a5a4a"/><circle cx="363.0" cy="396.8" r="1.45" fill="#18b4e6" stroke="#18b4e6"/><circle cx="371.8" cy="387.4" r="1.45" fill="#18b4e6" stroke="#18b4e6"/></g>
<g fill-opacity="0.4"><path d="M79,58.9 L82.6,62.5 L79,66.1 L75.4,62.5Z" fill="#c83a5c"/><path d="M79,130.9 L82.6,134.5 L79,138.1 L75.4,134.5Z" fill="#18b0a8"/><path d="M79,179.8 L82.6,183.4 L79,187.0 L75.4,183.4Z" fill="#605058"/><path d="M79.5,264.79999999999995 L83.1,268.4 L79.5,272.0 L75.9,268.4Z" fill="#3aafb9"/><path d="M79,295.79999999999995 L82.6,299.4 L79,303.0 L75.4,299.4Z" fill="#f5cd3a"/><path d="M79,303.09999999999997 L82.6,306.7 L79,310.3 L75.4,306.7Z" fill="#7ae626"/><path d="M79,313.4 L82.6,317 L79,320.6 L75.4,317Z" fill="#50506a"/><path d="M79,325.79999999999995 L82.6,329.4 L79,333.0 L75.4,329.4Z" fill="#c8000e"/><path d="M79,330.9 L82.6,334.5 L79,338.1 L75.4,334.5Z" fill="#e0943e"/><path d="M79,353.4 L82.6,357 L79,360.6 L75.4,357Z" fill="#3a0e80"/><path d="M79,362.9 L82.6,366.5 L79,370.1 L75.4,366.5Z" fill="#0b4a9a"/><path d="M79.5,383.4 L83.1,387 L79.5,390.6 L75.9,387Z" fill="#3a5a4a"/></g>
<g fill="none" stroke-width="1.85" stroke-linejoin="round" stroke-linecap="butt"><path d="M79.40,44.20 C80.92,44.87 84.73,46.55 88.50,48.20 C92.27,49.85 97.52,52.13 102.00,54.10 C106.48,56.07 110.92,58.03 115.40,60.00 C119.88,61.97 124.40,63.93 128.90,65.90 C133.40,67.87 138.80,70.37 142.40,71.80 C146.00,73.23 147.80,73.70 150.50,74.50 C153.20,75.30 155.67,76.13 158.60,76.60 C161.53,77.07 165.17,77.42 168.10,77.30 C171.03,77.18 173.50,76.58 176.20,75.90 C178.90,75.22 181.62,74.47 184.30,73.20 C186.98,71.93 189.62,70.00 192.30,68.30 C194.98,66.60 197.70,64.93 200.40,63.00 C203.10,61.07 205.80,58.65 208.50,56.70 C211.20,54.75 213.90,52.63 216.60,51.30 C219.30,49.97 222.00,49.20 224.70,48.70 C227.40,48.20 230.55,48.25 232.80,48.30 C235.05,48.35 236.40,48.33 238.20,49.00 C240.00,49.67 241.57,50.53 243.60,52.30 C245.63,54.07 248.15,57.08 250.40,59.60 C252.65,62.12 254.85,65.08 257.10,67.40 C259.35,69.72 261.65,71.13 263.90,73.50 C266.15,75.87 268.37,79.25 270.60,81.60 C272.83,83.95 275.05,85.98 277.30,87.60 C279.55,89.22 281.85,90.35 284.10,91.30 C286.35,92.25 288.33,92.78 290.80,93.30 C293.27,93.82 296.20,94.12 298.90,94.40 C301.60,94.68 304.30,95.35 307.00,95.00 C309.70,94.65 312.77,93.30 315.10,92.30 C317.43,91.30 318.83,89.92 321.00,89.00 C323.17,88.08 325.57,87.08 328.10,86.80 C330.63,86.52 333.05,86.73 336.20,87.30 C339.35,87.87 343.42,89.12 347.00,90.20 C350.58,91.28 354.37,92.27 357.70,93.80 C361.03,95.33 363.95,97.42 367.00,99.40 C370.05,101.38 373.00,103.45 376.00,105.70 C379.00,107.95 381.90,110.20 385.00,112.90 C388.10,115.60 393.00,120.40 394.60,121.90" stroke="#c4182a"/><path d="M79.00,132.00 C80.58,130.88 84.67,127.70 88.50,125.30 C92.33,122.90 97.52,120.02 102.00,117.60 C106.48,115.18 110.92,112.93 115.40,110.80 C119.88,108.67 124.40,106.62 128.90,104.80 C133.40,102.98 137.90,101.32 142.40,99.90 C146.90,98.48 151.62,97.38 155.90,96.30 C160.18,95.22 164.72,94.23 168.10,93.40 C171.48,92.57 173.50,92.08 176.20,91.30 C178.90,90.52 181.62,89.65 184.30,88.70 C186.98,87.75 189.62,86.78 192.30,85.60 C194.98,84.42 197.70,82.98 200.40,81.60 C203.10,80.22 205.80,78.65 208.50,77.30 C211.20,75.95 213.90,74.58 216.60,73.50 C219.30,72.42 222.00,71.48 224.70,70.80 C227.40,70.12 230.10,69.80 232.80,69.40 C235.50,69.00 238.03,68.73 240.90,68.40 C243.77,68.07 247.52,67.67 250.00,67.40 C252.48,67.13 253.03,67.28 255.80,66.80 C258.57,66.32 263.02,65.38 266.60,64.50 C270.18,63.62 273.72,62.45 277.30,61.50 C280.88,60.55 284.50,59.77 288.10,58.80 C291.70,57.83 296.20,56.33 298.90,55.70 C301.60,55.07 302.05,55.07 304.30,55.00 C306.55,54.93 309.70,55.12 312.40,55.30 C315.10,55.48 317.88,55.73 320.50,56.10 C323.12,56.47 325.48,56.70 328.10,57.50 C330.72,58.30 333.05,59.55 336.20,60.90 C339.35,62.25 343.42,64.15 347.00,65.60 C350.58,67.05 354.12,68.25 357.70,69.60 C361.28,70.95 364.90,72.23 368.50,73.70 C372.10,75.17 375.70,76.87 379.30,78.40 C382.90,79.93 387.52,81.88 390.10,82.90 C392.68,83.92 394.02,84.23 394.80,84.50" stroke="#12b5ea"/><path d="M79.00,192.50 C80.58,191.40 84.67,188.23 88.50,185.90 C92.33,183.57 97.52,180.80 102.00,178.50 C106.48,176.20 110.92,174.02 115.40,172.10 C119.88,170.18 124.40,168.65 128.90,167.00 C133.40,165.35 137.90,163.78 142.40,162.20 C146.90,160.62 152.13,158.47 155.90,157.50 C159.67,156.53 162.97,156.58 165.00,156.40 C167.03,156.22 166.23,156.22 168.10,156.40 C169.97,156.58 173.50,156.63 176.20,157.50 C178.90,158.37 181.62,159.80 184.30,161.60 C186.98,163.40 189.62,165.95 192.30,168.30 C194.98,170.65 197.70,173.27 200.40,175.70 C203.10,178.13 205.80,180.72 208.50,182.90 C211.20,185.08 213.90,187.02 216.60,188.80 C219.30,190.58 222.00,192.18 224.70,193.60 C227.40,195.02 230.55,196.35 232.80,197.30 C235.05,198.25 236.48,198.67 238.20,199.30 C239.92,199.93 240.93,200.62 243.10,201.10 C245.27,201.58 248.50,201.78 251.20,202.20 C253.90,202.62 256.62,202.92 259.30,203.60 C261.98,204.28 264.62,205.47 267.30,206.30 C269.98,207.13 272.70,207.82 275.40,208.60 C278.10,209.38 280.80,210.15 283.50,211.00 C286.20,211.85 288.90,212.80 291.60,213.70 C294.30,214.60 297.00,215.38 299.70,216.40 C302.40,217.42 305.10,218.57 307.80,219.80 C310.50,221.03 313.87,222.83 315.90,223.80 C317.93,224.77 317.97,224.67 320.00,225.60 C322.03,226.53 325.40,228.05 328.10,229.40 C330.80,230.75 333.50,232.35 336.20,233.70 C338.90,235.05 341.62,236.38 344.30,237.50 C346.98,238.62 349.62,239.47 352.30,240.40 C354.98,241.33 357.70,242.32 360.40,243.10 C363.10,243.88 365.80,244.53 368.50,245.10 C371.20,245.67 373.90,246.15 376.60,246.50 C379.30,246.85 381.67,247.08 384.70,247.20 C387.73,247.32 393.12,247.20 394.80,247.20" stroke="#661033"/><path d="M79.50,282.50 C80.62,283.15 83.20,284.72 86.20,286.40 C89.20,288.08 93.75,290.53 97.50,292.60 C101.25,294.67 104.95,296.98 108.70,298.80 C112.45,300.62 116.25,302.18 120.00,303.50 C123.75,304.82 127.47,305.65 131.20,306.70 C134.93,307.75 138.65,308.75 142.40,309.80 C146.15,310.85 149.95,311.88 153.70,313.00 C157.45,314.12 161.35,315.25 164.90,316.50 C168.45,317.75 171.33,319.12 175.00,320.50 C178.67,321.88 182.90,323.05 186.90,324.80 C190.90,326.55 195.32,329.30 199.00,331.00 C202.68,332.70 205.83,333.83 209.00,335.00 C212.17,336.17 215.00,337.28 218.00,338.00 C221.00,338.72 224.00,339.00 227.00,339.30 C230.00,339.60 233.00,339.92 236.00,339.80 C239.00,339.68 242.00,339.13 245.00,338.60 C248.00,338.07 251.00,337.30 254.00,336.60 C257.00,335.90 260.00,335.37 263.00,334.40 C266.00,333.43 269.00,332.08 272.00,330.80 C275.00,329.52 278.00,328.05 281.00,326.70 C284.00,325.35 287.05,323.88 290.00,322.70 C292.95,321.52 295.38,320.78 298.70,319.60 C302.02,318.42 306.15,316.92 309.90,315.60 C313.65,314.28 318.28,312.65 321.20,311.70 C324.12,310.75 324.48,310.95 327.40,309.90 C330.32,308.85 334.95,307.00 338.70,305.40 C342.45,303.80 346.35,301.93 349.90,300.30 C353.45,298.67 356.03,297.52 360.00,295.60 C363.97,293.68 369.55,290.73 373.70,288.80 C377.85,286.87 381.43,285.42 384.90,284.00 C388.37,282.58 392.90,280.92 394.50,280.30" stroke="#3aafb9"/><path d="M79.50,298.60 C82.08,298.60 89.92,298.67 95.00,298.60 C100.08,298.53 105.50,298.38 110.00,298.20 C114.50,298.02 117.83,297.70 122.00,297.50 C126.17,297.30 130.33,297.10 135.00,297.00 C139.67,296.90 145.00,296.67 150.00,296.90 C155.00,297.13 160.00,297.83 165.00,298.40 C170.00,298.97 175.00,299.77 180.00,300.30 C185.00,300.83 190.00,301.25 195.00,301.60 C200.00,301.95 204.17,302.13 210.00,302.40 C215.83,302.67 223.33,302.93 230.00,303.20 C236.67,303.47 243.33,303.73 250.00,304.00 C256.67,304.27 264.58,304.70 270.00,304.80 C275.42,304.90 278.55,304.68 282.50,304.60 C286.45,304.52 289.97,304.63 293.70,304.30 C297.43,303.97 301.15,303.27 304.90,302.60 C308.65,301.93 312.45,301.15 316.20,300.30 C319.95,299.45 323.65,298.43 327.40,297.50 C331.15,296.57 334.95,295.35 338.70,294.70 C342.45,294.05 345.93,293.80 349.90,293.60 C353.87,293.40 357.60,293.33 362.50,293.50 C367.40,293.67 375.18,294.15 379.30,294.60 C383.42,295.05 384.67,295.55 387.20,296.20 C389.73,296.85 393.28,298.12 394.50,298.50" stroke="#f5cd3a"/><path d="M79.50,306.20 C86.25,306.17 108.25,306.07 120.00,306.00 C131.75,305.93 141.67,305.92 150.00,305.80 C158.33,305.68 164.17,305.35 170.00,305.30 C175.83,305.25 180.50,305.35 185.00,305.50 C189.50,305.65 192.83,305.78 197.00,306.20 C201.17,306.62 206.50,307.45 210.00,308.00 C213.50,308.55 215.33,309.17 218.00,309.50 C220.67,309.83 222.77,309.90 226.00,310.00 C229.23,310.10 233.62,310.17 237.40,310.10 C241.18,310.03 244.93,309.82 248.70,309.60 C252.47,309.38 256.45,308.95 260.00,308.80 C263.55,308.65 266.25,308.80 270.00,308.70 C273.75,308.60 276.68,308.47 282.50,308.20 C288.32,307.93 297.42,307.47 304.90,307.10 C312.38,306.73 319.90,306.38 327.40,306.00 C334.90,305.62 344.05,305.02 349.90,304.80 C355.75,304.58 355.07,304.67 362.50,304.70 C369.93,304.73 389.17,304.95 394.50,305.00" stroke="#7ae626"/><path d="M79.50,318.00 C82.50,318.37 90.75,319.27 97.50,320.20 C104.25,321.13 112.52,322.57 120.00,323.60 C127.48,324.63 134.92,325.62 142.40,326.40 C149.88,327.18 159.47,327.80 164.90,328.30 C170.33,328.80 172.28,329.10 175.00,329.40 C177.72,329.70 178.28,329.65 181.20,330.10 C184.12,330.55 189.37,331.38 192.50,332.10 C195.63,332.82 197.25,333.65 200.00,334.40 C202.75,335.15 206.00,335.85 209.00,336.60 C212.00,337.35 215.00,338.30 218.00,338.90 C221.00,339.50 224.00,339.90 227.00,340.20 C230.00,340.50 233.00,340.55 236.00,340.70 C239.00,340.85 242.00,340.95 245.00,341.10 C248.00,341.25 251.00,341.37 254.00,341.60 C257.00,341.83 260.00,342.20 263.00,342.50 C266.00,342.80 269.00,343.03 272.00,343.40 C275.00,343.77 278.08,344.05 281.00,344.70 C283.92,345.35 286.92,346.53 289.50,347.30 C292.08,348.07 293.58,348.62 296.50,349.30 C299.42,349.98 302.92,350.58 307.00,351.40 C311.08,352.22 316.33,353.52 321.00,354.20 C325.67,354.88 329.75,355.30 335.00,355.50 C340.25,355.70 347.72,355.55 352.50,355.40 C357.28,355.25 359.97,355.07 363.70,354.60 C367.43,354.13 371.15,353.32 374.90,352.60 C378.65,351.88 382.92,350.95 386.20,350.30 C389.48,349.65 393.20,348.97 394.60,348.70" stroke="#1e1a5c"/><path d="M79.50,318.50 C82.50,319.17 90.75,321.23 97.50,322.50 C104.25,323.77 112.52,325.17 120.00,326.10 C127.48,327.03 136.78,327.77 142.40,328.10 C148.02,328.43 149.95,328.33 153.70,328.10 C157.45,327.87 162.10,327.12 164.90,326.70 C167.70,326.28 168.82,326.05 170.50,325.60 C172.18,325.15 173.22,324.72 175.00,324.00 C176.78,323.28 179.53,322.13 181.20,321.30 C182.87,320.47 183.12,320.08 185.00,319.00 C186.88,317.92 189.75,316.52 192.50,314.80 C195.25,313.08 199.08,310.07 201.50,308.70 C203.92,307.33 204.75,307.08 207.00,306.60 C209.25,306.12 212.00,306.12 215.00,305.80 C218.00,305.48 221.67,304.90 225.00,304.70 C228.33,304.50 232.50,304.72 235.00,304.60 C237.50,304.48 237.50,304.57 240.00,304.00 C242.50,303.43 246.67,302.15 250.00,301.20 C253.33,300.25 256.67,299.23 260.00,298.30 C263.33,297.37 266.25,296.85 270.00,295.60 C273.75,294.35 278.55,291.70 282.50,290.80 C286.45,289.90 289.97,290.27 293.70,290.20 C297.43,290.13 301.15,290.12 304.90,290.40 C308.65,290.68 312.45,291.47 316.20,291.90 C319.95,292.33 323.65,293.10 327.40,293.00 C331.15,292.90 334.95,292.03 338.70,291.30 C342.45,290.57 345.93,289.77 349.90,288.60 C353.87,287.43 358.53,285.97 362.50,284.30 C366.47,282.63 369.97,280.73 373.70,278.60 C377.43,276.47 381.43,273.83 384.90,271.50 C388.37,269.17 392.90,265.75 394.50,264.60" stroke="#c8000e"/><path d="M79.50,334.50 C82.50,334.65 90.75,335.10 97.50,335.40 C104.25,335.70 112.52,336.02 120.00,336.30 C127.48,336.58 133.23,336.98 142.40,337.10 C151.57,337.22 166.65,336.95 175.00,337.00 C183.35,337.05 187.72,337.15 192.50,337.40 C197.28,337.65 200.95,338.10 203.70,338.50 C206.45,338.90 206.62,339.37 209.00,339.80 C211.38,340.23 215.00,340.80 218.00,341.10 C221.00,341.40 222.50,341.48 227.00,341.60 C231.50,341.72 239.00,341.73 245.00,341.80 C251.00,341.87 258.50,341.88 263.00,342.00 C267.50,342.12 269.00,342.27 272.00,342.50 C275.00,342.73 278.00,343.07 281.00,343.40 C284.00,343.73 287.05,344.07 290.00,344.50 C292.95,344.93 295.38,345.67 298.70,346.00 C302.02,346.33 306.15,346.47 309.90,346.50 C313.65,346.53 317.45,346.48 321.20,346.20 C324.95,345.92 328.65,345.32 332.40,344.80 C336.15,344.28 339.95,343.60 343.70,343.10 C347.45,342.60 351.35,342.22 354.90,341.80 C358.45,341.38 361.67,340.87 365.00,340.60 C368.33,340.33 371.37,340.33 374.90,340.20 C378.43,340.07 382.92,339.90 386.20,339.80 C389.48,339.70 393.20,339.63 394.60,339.60" stroke="#e0943e"/><path d="M79.50,357.00 C82.50,357.18 90.75,357.88 97.50,358.10 C104.25,358.32 112.52,358.40 120.00,358.30 C127.48,358.20 134.92,358.10 142.40,357.50 C149.88,356.90 159.47,355.53 164.90,354.70 C170.33,353.87 172.28,353.23 175.00,352.50 C177.72,351.77 178.28,351.22 181.20,350.30 C184.12,349.38 189.37,348.08 192.50,347.00 C195.63,345.92 197.25,344.70 200.00,343.80 C202.75,342.90 206.00,342.47 209.00,341.60 C212.00,340.73 215.00,339.58 218.00,338.60 C221.00,337.62 224.00,336.63 227.00,335.70 C230.00,334.77 233.00,333.63 236.00,333.00 C239.00,332.37 242.00,332.17 245.00,331.90 C248.00,331.63 251.00,331.43 254.00,331.40 C257.00,331.37 260.00,331.50 263.00,331.70 C266.00,331.90 269.00,332.23 272.00,332.60 C275.00,332.97 278.00,333.42 281.00,333.90 C284.00,334.38 287.05,335.05 290.00,335.50 C292.95,335.95 295.38,336.27 298.70,336.60 C302.02,336.93 306.15,337.25 309.90,337.50 C313.65,337.75 317.85,338.02 321.20,338.10 C324.55,338.18 326.67,338.30 330.00,338.00 C333.33,337.70 337.45,336.87 341.20,336.30 C344.95,335.73 348.75,335.10 352.50,334.60 C356.25,334.10 359.97,333.87 363.70,333.30 C367.43,332.73 371.15,331.77 374.90,331.20 C378.65,330.63 382.92,330.30 386.20,329.90 C389.48,329.50 393.20,328.98 394.60,328.80" stroke="#3a0e80"/><path d="M79.50,366.50 C82.50,365.85 90.75,363.63 97.50,362.60 C104.25,361.57 112.52,360.83 120.00,360.30 C127.48,359.77 134.92,359.48 142.40,359.40 C149.88,359.32 159.47,359.62 164.90,359.80 C170.33,359.98 170.40,360.20 175.00,360.50 C179.60,360.80 185.85,361.42 192.50,361.60 C199.15,361.78 207.42,361.98 214.90,361.60 C222.38,361.22 231.77,360.23 237.40,359.30 C243.03,358.37 244.95,356.93 248.70,356.00 C252.45,355.07 257.18,354.28 259.90,353.70 C262.62,353.12 261.82,353.05 265.00,352.50 C268.18,351.95 274.33,350.98 279.00,350.40 C283.67,349.82 288.33,348.83 293.00,349.00 C297.67,349.17 302.33,350.53 307.00,351.40 C311.67,352.27 316.33,353.47 321.00,354.20 C325.67,354.93 329.75,355.50 335.00,355.80 C340.25,356.10 347.72,356.07 352.50,356.00 C357.28,355.93 359.97,355.60 363.70,355.40 C367.43,355.20 371.15,354.98 374.90,354.80 C378.65,354.62 382.92,354.52 386.20,354.30 C389.48,354.08 393.20,353.63 394.60,353.50" stroke="#0b4a9a"/><path d="M79.50,390.60 C82.50,390.28 92.63,389.30 97.50,388.70 C102.37,388.10 104.95,387.57 108.70,387.00 C112.45,386.43 116.25,385.97 120.00,385.30 C123.75,384.63 127.47,383.75 131.20,383.00 C134.93,382.25 138.65,381.42 142.40,380.80 C146.15,380.18 149.95,379.48 153.70,379.30 C157.45,379.12 161.35,379.45 164.90,379.70 C168.45,379.95 172.48,380.50 175.00,380.80 C177.52,381.10 178.05,381.17 180.00,381.50 C181.95,381.83 184.68,382.35 186.70,382.80 C188.72,383.25 189.85,383.63 192.10,384.20 C194.35,384.77 196.60,385.77 200.20,386.20 C203.80,386.63 209.37,386.67 213.70,386.80 C218.03,386.93 222.25,387.07 226.20,387.00 C230.15,386.93 233.65,386.55 237.40,386.40 C241.15,386.25 244.10,386.15 248.70,386.10 C253.30,386.05 259.28,386.18 265.00,386.10 C270.72,386.02 277.02,385.53 283.00,385.60 C288.98,385.67 294.92,386.10 300.90,386.50 C306.88,386.90 314.22,387.75 318.90,388.00 C323.58,388.25 325.82,388.10 329.00,388.00 C332.18,387.90 335.00,387.60 338.00,387.40 C341.00,387.20 344.00,387.10 347.00,386.80 C350.00,386.50 353.00,386.02 356.00,385.60 C359.00,385.18 362.02,384.82 365.00,384.30 C367.98,383.78 370.92,383.13 373.90,382.50 C376.88,381.87 380.30,381.20 382.90,380.50 C385.50,379.80 388.40,378.67 389.50,378.30" stroke="#004a2a"/><path d="M192.10,384.50 C193.45,384.83 196.60,385.97 200.20,386.50 C203.80,387.03 209.37,387.40 213.70,387.70 C218.03,388.00 222.25,388.08 226.20,388.30 C230.15,388.52 233.65,388.75 237.40,389.00 C241.15,389.25 244.95,389.53 248.70,389.80 C252.45,390.07 256.35,390.37 259.90,390.60 C263.45,390.83 266.15,390.98 270.00,391.20 C273.85,391.42 277.85,391.87 283.00,391.90 C288.15,391.93 294.92,391.52 300.90,391.40 C306.88,391.28 312.72,391.27 318.90,391.20 C325.08,391.13 331.82,391.07 338.00,391.00 C344.18,390.93 350.02,390.87 356.00,390.80 C361.98,390.73 368.28,390.63 373.90,390.60 C379.52,390.57 387.07,390.60 389.70,390.60" stroke="#18b4e6"/><path d="M278.00,377.80 C281.82,377.75 294.08,377.67 300.90,377.50 C307.72,377.33 314.22,376.90 318.90,376.80 C323.58,376.70 325.82,376.63 329.00,376.90 C332.18,377.17 335.00,378.07 338.00,378.40 C341.00,378.73 344.00,378.82 347.00,378.90 C350.00,378.98 353.00,379.05 356.00,378.90 C359.00,378.75 362.62,378.38 365.00,378.00 C367.38,377.62 368.82,377.13 370.30,376.60 C371.78,376.07 371.80,375.62 373.90,374.80 C376.00,373.98 380.27,372.75 382.90,371.70 C385.53,370.65 388.57,369.03 389.70,368.50" stroke="#ecb222"/></g>
<g stroke="#333333" stroke-width="1.07"><line x1="79.40" y1="418.0" x2="79.40" y2="420.75"/><line x1="125.67" y1="418.0" x2="125.67" y2="420.75"/><line x1="171.43" y1="418.0" x2="171.43" y2="420.75"/><line x1="217.19" y1="418.0" x2="217.19" y2="420.75"/><line x1="263.46" y1="418.0" x2="263.46" y2="420.75"/><line x1="309.73" y1="418.0" x2="309.73" y2="420.75"/><line x1="354.99" y1="418.0" x2="354.99" y2="420.75"/><line x1="400.75" y1="418.0" x2="400.75" y2="420.75"/><line x1="447.02" y1="418.0" x2="447.02" y2="420.75"/><line x1="493.29" y1="418.0" x2="493.29" y2="420.75"/><line x1="538.55" y1="418.0" x2="538.55" y2="420.75"/><line x1="584.31" y1="418.0" x2="584.31" y2="420.75"/><line x1="630.58" y1="418.0" x2="630.58" y2="420.75"/><line x1="676.85" y1="418.0" x2="676.85" y2="420.75"/><line x1="722.11" y1="418.0" x2="722.11" y2="420.75"/><line x1="767.87" y1="418.0" x2="767.87" y2="420.75"/><line x1="814.14" y1="418.0" x2="814.14" y2="420.75"/><line x1="860.40" y1="418.0" x2="860.40" y2="420.75"/><line x1="36.75" y1="399.20" x2="39.5" y2="399.20"/><line x1="36.75" y1="252.80" x2="39.5" y2="252.80"/><line x1="36.75" y1="106.40" x2="39.5" y2="106.40"/></g>
<g font-family="Liberation Sans, Arial, sans-serif" font-size="8.8" fill="#555555"><text x="79.80" y="428.9" text-anchor="middle" font-size="8.6">Oct 2023</text><text x="126.07" y="428.9" text-anchor="middle" font-size="8.6">Jan 2024</text><text x="171.83" y="428.9" text-anchor="middle" font-size="8.6">Apr 2024</text><text x="217.59" y="428.9" text-anchor="middle" font-size="8.6">Jul 2024</text><text x="263.86" y="428.9" text-anchor="middle" font-size="8.6">Oct 2024</text><text x="310.13" y="428.9" text-anchor="middle" font-size="8.6">Jan 2025</text><text x="355.39" y="428.9" text-anchor="middle" font-size="8.6">Apr 2025</text><text x="401.15" y="428.9" text-anchor="middle" font-size="8.6">Jul 2025</text><text x="447.42" y="428.9" text-anchor="middle" font-size="8.6">Oct 2025</text><text x="493.69" y="428.9" text-anchor="middle" font-size="8.6">Jan 2026</text><text x="538.95" y="428.9" text-anchor="middle" font-size="8.6">Apr 2026</text><text x="584.71" y="428.9" text-anchor="middle" font-size="8.6">Jul 2026</text><text x="630.98" y="428.9" text-anchor="middle" font-size="8.6">Oct 2026</text><text x="677.25" y="428.9" text-anchor="middle" font-size="8.6">Jan 2027</text><text x="722.51" y="428.9" text-anchor="middle" font-size="8.6">Apr 2027</text><text x="768.27" y="428.9" text-anchor="middle" font-size="8.6">Jul 2027</text><text x="814.54" y="428.9" text-anchor="middle" font-size="8.6">Oct 2027</text><text x="860.80" y="428.9" text-anchor="middle" font-size="8.6">Jan 2028</text><text x="35.45" y="401.90" text-anchor="end">0%</text><text x="35.45" y="255.50" text-anchor="end">10%</text><text x="35.45" y="109.10" text-anchor="end">20%</text></g>
<g font-family="Liberation Sans, Arial, sans-serif" font-size="12.4" fill="#1a1a1a" stroke="#1a1a1a" stroke-width="0.12"><rect x="910.8" y="83.8" width="18.0" height="267.96" fill="#f2f2f2" stroke="none"/><line x1="912.30" y1="92.67" x2="928.80" y2="92.67" stroke="#c4182a" stroke-width="2.6"/><text x="934.50" y="97.37">Smer</text><line x1="912.30" y1="111.81" x2="928.80" y2="111.81" stroke="#12b5ea" stroke-width="2.6"/><text x="934.50" y="116.51">PS</text><line x1="912.30" y1="130.95" x2="928.80" y2="130.95" stroke="#661033" stroke-width="2.6"/><text x="934.50" y="135.65">Hlas</text><line x1="912.30" y1="150.09" x2="928.80" y2="150.09" stroke="#3aafb9" stroke-width="2.6"/><text x="934.50" y="154.79">Slovensko</text><line x1="912.30" y1="169.23" x2="928.80" y2="169.23" stroke="#f5cd3a" stroke-width="2.6"/><text x="934.50" y="173.93">KDH</text><line x1="912.30" y1="188.37" x2="928.80" y2="188.37" stroke="#7ae626" stroke-width="2.6"/><text x="934.50" y="193.07">SASKA</text><line x1="912.30" y1="207.51" x2="928.80" y2="207.51" stroke="#1e1a5c" stroke-width="2.6"/><text x="934.50" y="212.21">SNS</text><line x1="912.30" y1="226.65" x2="928.80" y2="226.65" stroke="#c8000e" stroke-width="2.6"/><text x="934.50" y="231.35">Republika</text><line x1="912.30" y1="245.79" x2="928.80" y2="245.79" stroke="#e0943e" stroke-width="2.6"/><text x="934.50" y="250.49">Aliancia</text><line x1="912.30" y1="264.93" x2="928.80" y2="264.93" stroke="#3a0e80" stroke-width="2.6"/><text x="934.50" y="269.63">Demokrati</text><line x1="912.30" y1="284.07" x2="928.80" y2="284.07" stroke="#0b4a9a" stroke-width="2.6"/><text x="934.50" y="288.77">SR</text><line x1="912.30" y1="303.21" x2="928.80" y2="303.21" stroke="#004a2a" stroke-width="2.6"/><text x="934.50" y="307.91">L'SNS</text><line x1="912.30" y1="322.35" x2="928.80" y2="322.35" stroke="#18b4e6" stroke-width="2.6"/><text x="934.50" y="327.05">KÚ</text><line x1="912.30" y1="341.49" x2="928.80" y2="341.49" stroke="#ecb222" stroke-width="2.6"/><text x="934.50" y="346.19">ZĽ</text></g>
</svg>
</body></html>
